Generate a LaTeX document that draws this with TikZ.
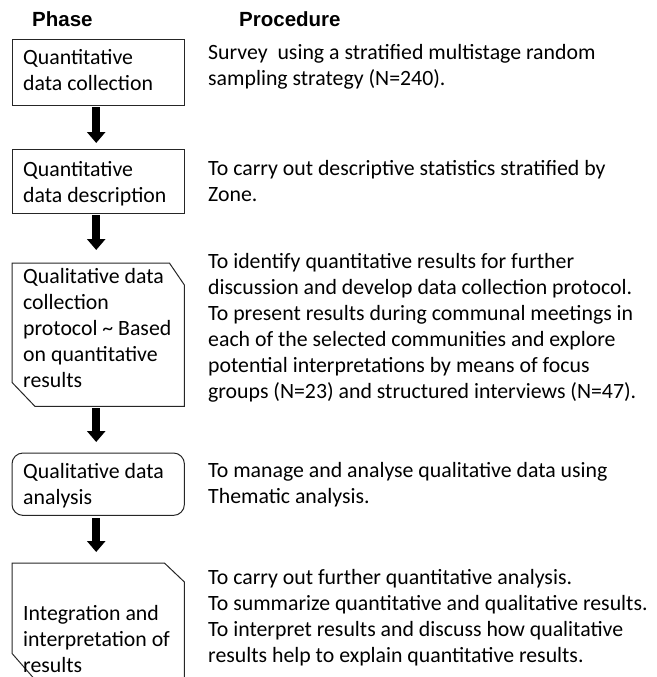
\documentclass[tikz,border=0pt]{standalone}
\usepackage{fontspec}
\setmainfont{Carlito}
\newfontfamily\headfont{Liberation Sans}
\usetikzlibrary{arrows.meta}
\tikzset{
  txt/.style={anchor=north west, inner sep=0pt, align=left, font=\fontsize{21.8}{26}\selectfont},
  head/.style={anchor=base west, inner sep=0pt, font=\headfont\bfseries\fontsize{20.5}{24}\selectfont},
  boxline/.style={draw=black!85, line width=1pt},
  slot/.style={inner sep=0pt, draw=none, anchor=north west},
  blockarrow/.style={draw=black, line width=7.5pt, -{Triangle[width=18pt,length=11pt]}}
}
\newcommand{\fl}{\rule{0pt}{18pt}}
\begin{document}
\begin{tikzpicture}[x=1pt,y=-1pt]
\useasboundingbox (0,0) rectangle (656,677);
% headers
\node[head] (hphase) at (32,27) {Phase};
\node[head] (hproc) at (239,27) {Procedure};
% box slots
\node[slot, minimum width=172pt, minimum height=65pt] (b1) at (12,40) {};
\node[slot, minimum width=172pt, minimum height=64pt] (b2) at (12,149) {};
\node[slot, minimum width=172pt, minimum height=143pt] (b3) at (12,263) {};
\node[slot, minimum width=172pt, minimum height=62pt] (b4) at (12,453) {};
\node[slot, minimum width=172pt, minimum height=114pt] (b5) at (12,563) {};
% shapes
\draw[boxline] (b1.north west) rectangle (b1.south east);
\draw[boxline] (b2.north west) rectangle (b2.south east);
\draw[boxline] (b3.north west) -- ([xshift=-15pt]b3.north east) -- ([yshift=-22pt]b3.north east)
  -- (b3.south east) -- ([xshift=23pt]b3.south west) -- ([yshift=24pt]b3.south west) -- cycle;
\draw[boxline, rounded corners=11pt] (b4.north west) rectangle (b4.south east);
\draw[boxline] ([xshift=21pt]b5.south west) -- ([yshift=24pt]b5.south west) -- (b5.north west)
  -- ([xshift=-20pt]b5.north east) -- ([yshift=-19pt]b5.north east) -- (b5.south east);
% left texts
\node[txt] (t1) at (23,46) {\fl Quantitative\\data collection};
\node[txt] (t2) at (23,158) {\fl Quantitative\\data description};
\node[txt] (t3) at (23,265) {\fl Qualitative data\\collection\\protocol \textasciitilde{} Based\\on quantitative\\results};
\node[txt] (t4) at (23,460) {\fl Qualitative data\\analysis};
\node[txt] (t5) at (23,602) {\fl Integration and\\interpretation of\\results};
% right texts
\node[txt] (p1) at (208,41) {\fl Survey \ using a stratified multistage random\\sampling strategy (N=240).};
\node[txt] (p2) at (208,157) {\fl To carry out descriptive statistics stratified by\\Zone.};
\node[txt] (p3) at (208,250) {\fl To identify quantitative results for further\\discussion and develop data collection protocol.\\To present results during communal meetings in\\each of the selected communities and explore\\potential interpretations by means of focus\\groups (N=23) and structured interviews (N=47).};
\node[txt] (p4) at (208,459) {\fl To manage and analyse qualitative data using\\Thematic analysis.};
\node[txt] (p5) at (208,566) {\fl To carry out further quantitative analysis.\\To summarize quantitative and qualitative results.\\To interpret results and discuss how qualitative\\results help to explain quantitative results.};
% arrows
\draw[blockarrow] ([xshift=-2pt,yshift=-2pt]b1.south) -- ([xshift=-2pt,yshift=6pt]b2.north);
\draw[blockarrow] ([xshift=-2pt,yshift=-2pt]b2.south) -- ([xshift=-2pt,yshift=13pt]b3.north);
\draw[blockarrow] ([xshift=-2pt,yshift=-2pt]b3.south) -- ([xshift=-2pt,yshift=11pt]b4.north);
\draw[blockarrow] ([xshift=-2pt,yshift=-3pt]b4.south) -- ([xshift=-2pt,yshift=11pt]b5.north);
\end{tikzpicture}
\end{document}
